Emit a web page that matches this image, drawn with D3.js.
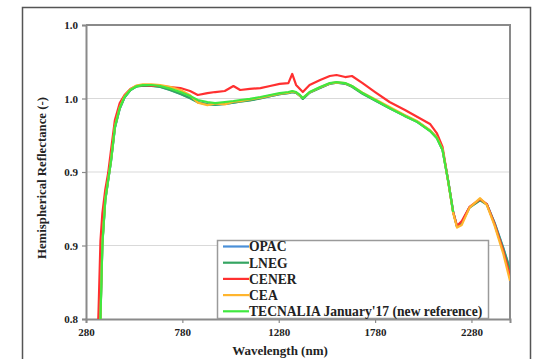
<!DOCTYPE html>
<html>
<head>
<meta charset="utf-8">
<script src="https://cdn.jsdelivr.net/npm/d3@7"></script>
<style>
  html, body { margin: 0; padding: 0; background: #fff; }
  svg { display: block; }
  text { font-family: "Liberation Serif", "Times New Roman", serif; font-weight: bold; fill: #222; }
</style>
</head>
<body>
<svg id="chart" width="533" height="359"></svg>
<script>
// Wavelength grid (nm) shared by all instruments
const wavelengths = [335, 345, 355, 365, 380, 395, 410, 430, 455, 480, 510, 540, 575, 620, 665, 715, 770, 820, 860, 910,
  950, 1000, 1045, 1080, 1130, 1185, 1235, 1285, 1330, 1350, 1370, 1390, 1405, 1440, 1495, 1545, 1580, 1625, 1660, 1715,
  1780, 1855, 1935, 2000, 2065, 2100, 2130, 2160, 2185, 2205, 2230, 2270, 2325, 2360, 2400, 2445, 2480];

// Hemispherical reflectance measured by each laboratory
const opac = [0.745, 0.785, 0.802, 0.852, 0.881, 0.8946, 0.9075, 0.930, 0.943, 0.9507, 0.9556, 0.9582, 0.959, 0.9588, 0.958, 0.956, 0.9532, 0.9503, 0.9476, 0.9462,
  0.9458, 0.9464, 0.9472, 0.948, 0.9488, 0.9502, 0.9516, 0.953, 0.9538, 0.9545, 0.954, 0.952, 0.9498, 0.954, 0.9574, 0.9601, 0.9608, 0.9602, 0.9583, 0.9535,
  0.9488, 0.9436, 0.9384, 0.9342, 0.9282, 0.9234, 0.9152, 0.8935, 0.873, 0.863, 0.8658, 0.876, 0.8812, 0.878, 0.8655, 0.8485, 0.834];

const lneg = [0.742, 0.784, 0.801, 0.851, 0.8805, 0.8942, 0.9078, 0.9302, 0.9432, 0.9508, 0.9557, 0.958, 0.9588, 0.9586, 0.9578, 0.9558, 0.953, 0.9502, 0.9474, 0.9461,
  0.9457, 0.9463, 0.9471, 0.9479, 0.9487, 0.95, 0.9515, 0.9529, 0.9537, 0.9543, 0.9538, 0.9518, 0.9497, 0.9539, 0.9572, 0.96, 0.9607, 0.96, 0.958, 0.9532,
  0.9486, 0.9433, 0.938, 0.934, 0.928, 0.9232, 0.915, 0.8934, 0.8729, 0.8628, 0.8656, 0.8758, 0.8808, 0.8779, 0.8652, 0.848, 0.8335];

const cener = [0.765, 0.805, 0.853, 0.872, 0.888, 0.8993, 0.915, 0.9354, 0.9469, 0.9524, 0.9565, 0.9585, 0.9592, 0.9588, 0.9585, 0.9578, 0.9571, 0.9551, 0.9524, 0.9537,
  0.9544, 0.9551, 0.9585, 0.9558, 0.9565, 0.9571, 0.9585, 0.9599, 0.9605, 0.9667, 0.9592, 0.9565, 0.9544, 0.9592, 0.9626, 0.9653, 0.966, 0.9646, 0.9653, 0.9605,
  0.9544, 0.9476, 0.9422, 0.9374, 0.9327, 0.9265, 0.917, 0.8932, 0.8728, 0.8633, 0.8667, 0.8762, 0.8816, 0.8782, 0.8646, 0.8463, 0.8293];

const cea = [0.743, 0.783, 0.801, 0.852, 0.8815, 0.895, 0.9085, 0.931, 0.944, 0.9515, 0.9562, 0.9588, 0.9596, 0.9596, 0.9592, 0.958, 0.9558, 0.9522, 0.9472, 0.9455,
  0.9466, 0.946, 0.9478, 0.9482, 0.9494, 0.9506, 0.952, 0.9533, 0.954, 0.9548, 0.9542, 0.952, 0.9505, 0.9542, 0.9576, 0.9603, 0.961, 0.9604, 0.9585, 0.954,
  0.9495, 0.9442, 0.9386, 0.9345, 0.9284, 0.9236, 0.9155, 0.8928, 0.8722, 0.8622, 0.864, 0.8758, 0.8822, 0.8775, 0.8635, 0.8445, 0.826];

// New reference spectrum stops at 2185 nm
const tecnalia = [0.740, 0.782, 0.800, 0.851, 0.881, 0.8946, 0.908, 0.9306, 0.9435, 0.951, 0.9558, 0.9582, 0.9592, 0.9592, 0.9585, 0.9568, 0.9544, 0.9517, 0.949, 0.9476,
  0.9469, 0.9476, 0.9483, 0.949, 0.9497, 0.951, 0.9524, 0.9537, 0.9544, 0.9551, 0.9544, 0.9524, 0.9503, 0.9544, 0.9578, 0.9605, 0.9612, 0.9605, 0.9585, 0.9537,
  0.949, 0.9435, 0.9381, 0.934, 0.9279, 0.9231, 0.915, 0.8932, 0.8728, null, null, null, null, null, null, null, null];

const seriesNames = ["OPAC", "LNEG", "CENER", "CEA", "TECNALIA January'17 (new reference)"];
const seriesValues = [opac, lneg, cener, cea, tecnalia];
const seriesColors = ["#4a8fd8", "#35a562", "#ff3030", "#ffb52e", "#3fe83f"];

const xTicks = [280, 780, 1280, 1780, 2280];
const yTicks = [0.80, 0.85, 0.90, 0.95, 1.00];
const yTickLabels = ["0.8", "0.9", "0.9", "1.0", "1.0"];

const svg = d3.select("#chart");
const plot = { left: 86, right: 510, top: 25, bottom: 319 };

const x = d3.scaleLinear().domain([280, 2480]).range([plot.left, plot.right]);
const y = d3.scaleLinear().domain([0.80, 1.00]).range([plot.bottom, plot.top]);

// Outer chart frame
svg.append("rect")
  .attr("x", 22.5).attr("y", 7.5).attr("width", 508).attr("height", 360)
  .attr("fill", "none").attr("stroke", "#555").attr("stroke-width", 1.5);

// Horizontal gridlines
svg.append("g")
  .selectAll("line")
  .data(yTicks.slice(1, -1))
  .join("line")
  .attr("x1", plot.left).attr("x2", plot.right)
  .attr("y1", d => y(d)).attr("y2", d => y(d))
  .attr("stroke", "#d9d9d9").attr("stroke-width", 1.2);

// Plot-area border (top and right)
svg.append("path")
  .attr("d", `M${plot.left},${plot.top}H${plot.right}V${plot.bottom}`)
  .attr("fill", "none").attr("stroke", "#8a8a8a").attr("stroke-width", 2);

// Axes
const yAxis = svg.append("g")
  .attr("transform", `translate(${plot.left},0)`)
  .call(d3.axisLeft(y).tickValues(yTicks).tickFormat((d, i) => yTickLabels[i]).tickSize(4).tickPadding(4));
const xAxis = svg.append("g")
  .attr("transform", `translate(0,${plot.bottom})`)
  .call(d3.axisBottom(x).tickValues(xTicks).tickFormat(d3.format("d")).tickSize(4).tickPadding(5));

[yAxis, xAxis].forEach(g => {
  g.select(".domain").attr("stroke", "#8a8a8a").attr("stroke-width", 2);
  g.selectAll(".tick line").attr("stroke", "#8a8a8a").attr("stroke-width", 1.2);
  g.selectAll(".tick text").attr("font-size", 11).attr("fill", "#222")
    .style("font-family", "'Liberation Serif', serif").style("font-weight", "bold");
});

// Spectra, clipped to the plot area
svg.append("clipPath").attr("id", "plot-clip")
  .append("rect")
  .attr("x", plot.left).attr("y", plot.top)
  .attr("width", plot.right - plot.left).attr("height", plot.bottom - plot.top);

const line = d3.line()
  .defined(d => d[1] != null)
  .x(d => x(d[0]))
  .y(d => y(d[1]));

svg.append("g")
  .attr("clip-path", "url(#plot-clip)")
  .selectAll("path")
  .data(seriesValues)
  .join("path")
  .attr("d", vals => line(wavelengths.map((w, i) => [w, vals[i]])))
  .attr("fill", "none")
  .attr("stroke", (d, i) => seriesColors[i])
  .attr("stroke-width", 2.2)
  .attr("stroke-linejoin", "round");

// Axis titles
svg.append("text")
  .attr("x", 280).attr("y", 355)
  .attr("text-anchor", "middle").attr("font-size", 13)
  .text("Wavelength (nm)");

svg.append("text")
  .attr("transform", `translate(46,178) rotate(-90)`)
  .attr("text-anchor", "middle").attr("font-size", 12.8)
  .text("Hemispherical Reflectance (-)");

// Legend
const legend = svg.append("g");
legend.append("rect")
  .attr("x", 217.5).attr("y", 240.5).attr("width", 271).attr("height", 78)
  .attr("fill", "#fff").attr("stroke", "#9a9a9a").attr("stroke-width", 1.5);

const rows = legend.selectAll("g.row")
  .data(seriesNames)
  .join("g")
  .attr("class", "row")
  .attr("transform", (d, i) => `translate(0,${246.5 + i * 16.2})`);

rows.append("line")
  .attr("x1", 223).attr("x2", 249)
  .attr("stroke", (d, i) => seriesColors[i]).attr("stroke-width", 2.2);

rows.append("text")
  .attr("x", 249).attr("y", 4.8)
  .attr("font-size", 13.6)
  .text(d => d);
</script>
</body>
</html>
